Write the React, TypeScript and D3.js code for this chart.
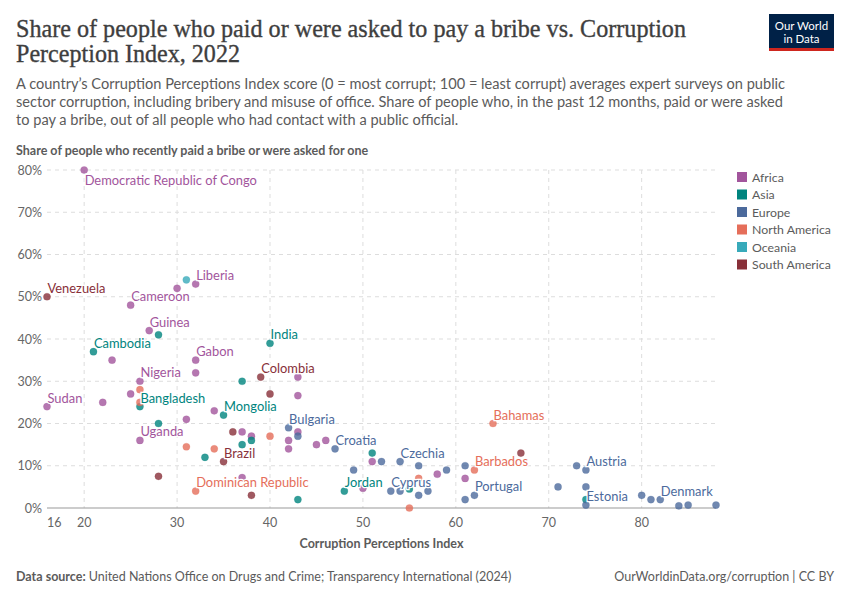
import * as React from "react";
import * as d3 from "d3";

// regions and their OWID colours
const regions = ["Africa", "Asia", "Europe", "North America", "Oceania", "South America"];
const regionColors = ["#a2559c", "#00847e", "#4c6a9c", "#e56e5a", "#38aaba", "#883039"];

// [CPI score, % paid a bribe, label]
const africa: [number, number, string?][] = [
  [20, 80, "Democratic Republic of Congo"], [30, 52], [32, 53, "Liberia"], [25, 48, "Cameroon"],
  [27, 42, "Guinea"], [23, 35], [32, 35, "Gabon"], [32, 32], [43, 31], [26, 30, "Nigeria"],
  [25, 27], [22, 25], [16, 24, "Sudan"], [43, 26.6], [34, 23], [31, 21], [43, 18], [37, 18],
  [38, 17], [42, 16], [45, 15], [46, 16], [42, 14], [26, 16, "Uganda"], [51, 11], [58, 8],
  [61, 7], [37, 7.2], [50, 4.7],
];
const asia: [number, number, string?][] = [
  [28, 41], [21, 37, "Cambodia"], [40, 39, "India"], [37, 30], [26, 24, "Bangladesh"],
  [35, 22, "Mongolia"], [28, 20], [38, 16], [37, 15], [33, 12], [51, 13], [43, 2],
  [48, 4, "Jordan"], [55, 4.5], [74, 2],
];
const europe: [number, number, string?][] = [
  [42, 19, "Bulgaria"], [43, 17], [47, 14, "Croatia"], [52, 11], [54, 11, "Czechia"], [49, 9],
  [56, 10], [59, 9], [61, 10], [73, 10], [74, 9, "Austria"], [71, 5], [74, 5],
  [53, 4, "Cyprus"], [54, 4], [56, 3], [57, 4], [61, 2], [62, 3, "Portugal"],
  [74, 0.7, "Estonia"], [80, 3], [81, 2], [82, 2, "Denmark"], [84, 0.5], [85, 0.7], [88, 0.7],
];
const northAmerica: [number, number, string?][] = [
  [26, 28], [26, 25], [40, 17], [34, 14], [31, 14.5], [56, 7], [62, 9, "Barbados"],
  [64, 20, "Bahamas"], [32, 4, "Dominican Republic"], [55, 0],
];
const oceania: [number, number, string?][] = [[31, 54]];
const southAmerica: [number, number, string?][] = [
  [16, 50, "Venezuela"], [39, 31, "Colombia"], [40, 27], [36, 18], [35, 11, "Brazil"],
  [28, 7.5], [38, 3], [67, 13],
];
const seriesByRegion = [africa, asia, europe, northAmerica, oceania, southAmerica];

const xTicks = [16, 20, 30, 40, 50, 60, 70, 80];
const yTicks = [0, 10, 20, 30, 40, 50, 60, 70, 80];

const subtitleLines = [
  "A country’s Corruption Perceptions Index score (0 = most corrupt; 100 = least corrupt) averages expert surveys on public",
  "sector corruption, including bribery and misuse of office. Share of people who, in the past 12 months, paid or were asked",
  "to pay a bribe, out of all people who had contact with a public official.",
];

const Chart = () => {
  const svgRef = React.useRef<SVGSVGElement>(null);

  React.useEffect(() => {
    const width = 850;
    const height = 600;
    const left = 47;
    const right = 716;
    const top = 170;
    const bottom = 508;
    const font = "Lato, 'Noto Sans', sans-serif";

    const svg = d3.select(svgRef.current).attr("width", width).attr("height", height);
    svg.selectAll("*").remove();
    svg.append("rect").attr("width", width).attr("height", height).attr("fill", "#fff");

    const x = d3.scaleLinear().domain([16, 88]).range([left, right]);
    const y = d3.scaleLinear().domain([0, 80]).range([bottom, top]);
    const color = d3.scaleOrdinal<string, string>().domain(regions).range(regionColors);

    // title
    const title = svg.append("g").attr("font-family", "'Liberation Serif', 'DejaVu Serif', serif")
      .attr("fill", "#3e3e3e").attr("stroke", "#3e3e3e").attr("stroke-width", 0.35);
    title.append("text").attr("x", 16).attr("y", 37).attr("font-size", 25)
      .attr("textLength", 670).attr("lengthAdjust", "spacingAndGlyphs")
      .text("Share of people who paid or were asked to pay a bribe vs. Corruption");
    title.append("text").attr("x", 16).attr("y", 62).attr("font-size", 25)
      .attr("textLength", 224).attr("lengthAdjust", "spacingAndGlyphs")
      .text("Perception Index, 2022");

    svg.append("g").selectAll("text").data(subtitleLines).join("text")
      .attr("x", 16).attr("y", (d, i) => 88.5 + i * 18.3)
      .attr("font-family", font).attr("font-size", 14.6).attr("fill", "#5b5b5b")
      .text((d) => d);

    // logo
    const logo = svg.append("g");
    logo.append("rect").attr("x", 769).attr("y", 14).attr("width", 65).attr("height", 37).attr("fill", "#002147");
    logo.append("rect").attr("x", 769).attr("y", 48).attr("width", 65).attr("height", 3).attr("fill", "#ce261e");
    logo.selectAll("text.l").data(["Our World", "in Data"]).join("text")
      .attr("x", 801.5).attr("y", (d, i) => 30 + i * 13)
      .attr("text-anchor", "middle").attr("font-family", font).attr("font-size", 11.5)
      .attr("fill", "#fff").text((d) => d);

    svg.append("text").attr("x", 16).attr("y", 155).attr("font-family", font)
      .attr("font-size", 12.5).attr("font-weight", 700).attr("fill", "#5b5b5b")
      .text("Share of people who recently paid a bribe or were asked for one");

    // grid
    const grid = svg.append("g").attr("stroke", "#dddddd").attr("stroke-dasharray", "4,4");
    grid.selectAll("line.h").data(yTicks.filter((d) => d > 0)).join("line")
      .attr("x1", left).attr("x2", right).attr("y1", (d) => y(d)).attr("y2", (d) => y(d));
    grid.selectAll("line.v").data(xTicks.filter((d) => d > 16)).join("line")
      .attr("x1", (d) => x(d)).attr("x2", (d) => x(d)).attr("y1", top).attr("y2", bottom);

    // axes
    svg.append("line").attr("x1", left).attr("x2", right).attr("y1", bottom).attr("y2", bottom)
      .attr("stroke", "#999");
    svg.append("g").selectAll("text").data(yTicks).join("text")
      .attr("x", 42).attr("y", (d) => y(d) + 4.5).attr("text-anchor", "end")
      .attr("font-family", font).attr("font-size", 12.5).attr("fill", "#666")
      .text((d) => `${d}%`);
    svg.append("g").selectAll("text").data(xTicks).join("text")
      .attr("x", (d) => x(d)).attr("y", 527)
      .attr("text-anchor", (d, i) => (i === 0 ? "start" : "middle"))
      .attr("font-family", font).attr("font-size", 12.5).attr("fill", "#666")
      .text((d) => d);
    svg.append("text").attr("x", (left + right) / 2).attr("y", 548).attr("text-anchor", "middle")
      .attr("font-family", font).attr("font-size", 12.5).attr("font-weight", 700).attr("fill", "#5b5b5b")
      .text("Corruption Perceptions Index");

    // points
    const points = seriesByRegion.flatMap((list, ri) =>
      list.map((p) => ({ cpi: p[0], share: p[1], label: p[2], region: regions[ri] }))
    );
    svg.append("g").selectAll("circle").data(points).join("circle")
      .attr("cx", (d) => x(d.cpi)).attr("cy", (d) => y(d.share)).attr("r", 3.6)
      .attr("fill", (d) => color(d.region)).attr("fill-opacity", 0.8)
      .attr("stroke", (d) => color(d.region)).attr("stroke-opacity", 0.4).attr("stroke-width", 0.5);

    // labels
    const labelled = points.filter((d) => d.label);
    svg.append("g").selectAll("text").data(labelled).join("text")
      .attr("x", (d) => x(d.cpi) + 0.5)
      .attr("y", (d) => (d.share >= 80 ? y(d.share) + 15 : y(d.share) - 4))
      .attr("font-family", font).attr("font-size", 12.9)
      .attr("fill", (d) => color(d.region))
      .attr("stroke", "#fff").attr("stroke-width", 2.5).attr("paint-order", "stroke")
      .text((d) => d.label as string);

    // legend
    const legend = svg.append("g").selectAll("g").data(regions).join("g")
      .attr("transform", (d, i) => `translate(737 ${172 + i * 17.5})`);
    legend.append("rect").attr("width", 10).attr("height", 10).attr("fill", (d) => color(d));
    legend.append("text").attr("x", 15).attr("y", 9.5).attr("font-family", font)
      .attr("font-size", 12.3).attr("fill", "#5b5b5b").text((d) => d);

    // footer
    const foot = svg.append("text").attr("x", 16).attr("y", 581).attr("font-family", font)
      .attr("font-size", 12.5).attr("fill", "#5b5b5b");
    foot.append("tspan").attr("font-weight", 700).text("Data source: ");
    foot.append("tspan").text("United Nations Office on Drugs and Crime; Transparency International (2024)");
    svg.append("text").attr("x", 834).attr("y", 581).attr("text-anchor", "end").attr("font-family", font)
      .attr("font-size", 12.5).attr("fill", "#5b5b5b").text("OurWorldinData.org/corruption | CC BY");
  }, []);

  return <svg ref={svgRef} style={{ position: "absolute", left: 0, top: 0 }} />;
};

export default function App() {
  return (
    <div>
      <Chart />
    </div>
  );
}
